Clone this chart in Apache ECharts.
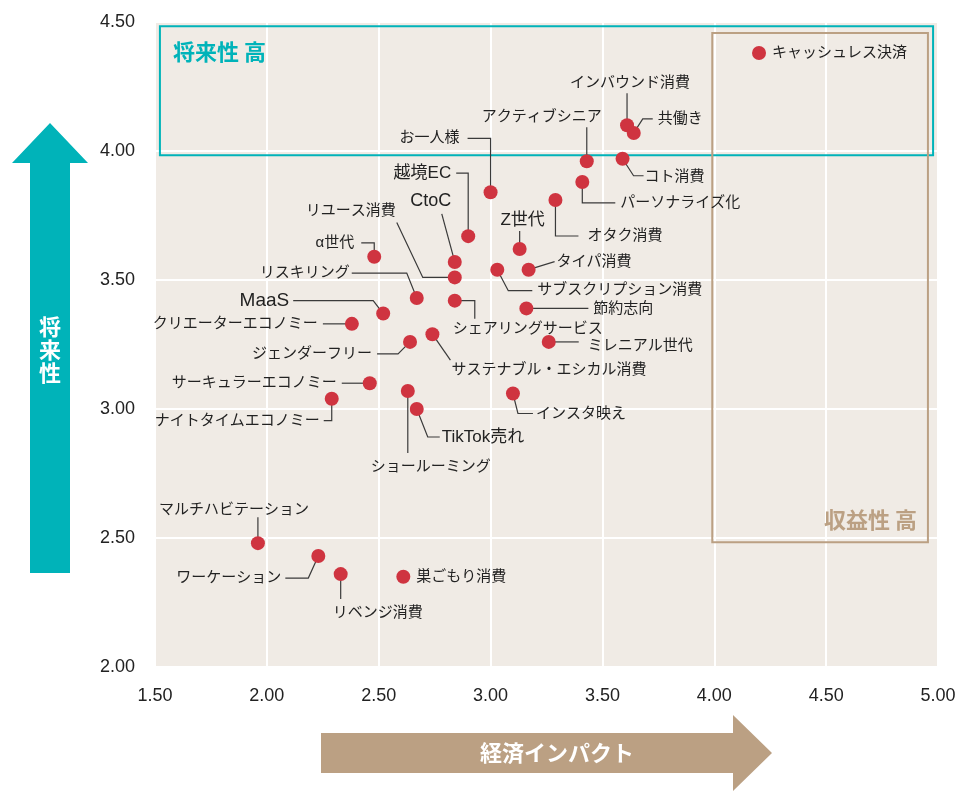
<!DOCTYPE html>
<html>
<head>
<meta charset="utf-8">
<script src="https://cdn.jsdelivr.net/npm/echarts@6/dist/echarts.min.js"></script>
<style>html,body{margin:0;padding:0;background:#fff;}#c{width:980px;height:800px;}</style>
</head>
<body>
<div id="c"></div>
<script>
// ---- data ----
const names = ['キャッシュレス決済','インバウンド消費','共働き','アクティブシニア','コト消費','お一人様','パーソナライズ化','オタク消費','越境EC','Z世代','CtoC','リユース消費','タイパ消費','サブスクリプション消費','α世代','リスキリング','シェアリングサービス','節約志向','MaaS','クリエーターエコノミー','サステナブル・エシカル消費','ジェンダーフリー','ミレニアル世代','サーキュラーエコノミー','ショールーミング','インスタ映え','ナイトタイムエコノミー','TikTok売れ','マルチハビテーション','ワーケーション','リベンジ消費','巣ごもり消費'];
const economicImpact = [4.20,3.61,3.64,3.43,3.59,3.00,3.41,3.29,2.90,3.13,2.84,2.84,3.17,3.03,2.48,2.67,2.84,3.16,2.52,2.38,2.74,2.64,3.26,2.46,2.63,3.10,2.29,2.67,1.96,2.23,2.33,2.61];
const futurePotential = [4.38,4.10,4.07,3.96,3.97,3.84,3.88,3.81,3.67,3.62,3.57,3.51,3.54,3.54,3.59,3.43,3.42,3.39,3.37,3.33,3.29,3.26,3.26,3.10,3.07,3.06,3.04,3.00,2.48,2.43,2.36,2.35];
const xTicks = [1.5,2.0,2.5,3.0,3.5,4.0,4.5,5.0];
const yTicks = [2.0,2.5,3.0,3.5,4.0,4.5];

// ---- label layout (pixel offsets relative to each point) ----
const labelLayout = {
 'キャッシュレス決済':{dx:13,dy:0,align:'left',path:[]},
 'インバウンド消費':{dx:3,dy:-42,align:'center',path:[[0,-32],[0,0]]},
 '共働き':{dx:24,dy:-14,align:'left',path:[[0,0],[9,-14],[19,-14]]},
 'アクティブシニア':{dx:15,dy:-44,align:'right',path:[[0,-34],[0,0]]},
 'コト消費':{dx:22,dy:18,align:'left',path:[[0,0],[11,17],[21,17]]},
 'お一人様':{dx:-31,dy:-54,align:'right',path:[[-23,-54],[0,-54],[0,0]]},
 'パーソナライズ化':{dx:38,dy:21,align:'left',path:[[0,0],[0,21],[33,21]]},
 'オタク消費':{dx:32,dy:36,align:'left',path:[[0,0],[0,36],[23,36]]},
 '越境EC':{dx:-17,dy:-63,align:'right',size:17,path:[[-12,-63],[0,-63],[0,0]]},
 'Z世代':{dx:3,dy:-29,align:'center',size:17,path:[[0,-18],[0,0]]},
 'CtoC':{dx:-24,dy:-61,align:'center',size:18,path:[[-13,-48],[0,0]]},
 'リユース消費':{dx:-59,dy:-67,align:'right',path:[[-58,-55],[-32,0],[0,0]]},
 'タイパ消費':{dx:28,dy:-8,align:'left',path:[[0,0],[26,-8]]},
 'サブスクリプション消費':{dx:40,dy:20,align:'left',path:[[0,0],[11,21],[35,21]]},
 'α世代':{dx:-20,dy:-14,align:'right',path:[[-13,-14],[0,-14],[0,0]]},
 'リスキリング':{dx:-67,dy:-25,align:'right',path:[[-65,-25],[-10,-25],[0,0]]},
 'シェアリングサービス':{dx:-2,dy:28,align:'left',path:[[0,0],[20,0],[20,18]]},
 '節約志向':{dx:67,dy:0,align:'left',path:[[0,0],[62,0]]},
 'MaaS':{dx:-94,dy:-13,align:'right',size:19,path:[[-90,-13],[-10,-13],[0,0]]},
 'クリエーターエコノミー':{dx:-34,dy:0,align:'right',path:[[-29,0],[0,0]]},
 'サステナブル・エシカル消費':{dx:19,dy:36,align:'left',path:[[0,0],[18,26]]},
 'ジェンダーフリー':{dx:-38,dy:12,align:'right',path:[[-33,12],[-12,12],[0,0]]},
 'ミレニアル世代':{dx:39,dy:4,align:'left',path:[[0,0],[30,0]]},
 'サーキュラーエコノミー':{dx:-33,dy:0,align:'right',path:[[-28,0],[0,0]]},
 'ショールーミング':{dx:23,dy:76,align:'center',path:[[0,0],[0,62]]},
 'インスタ映え':{dx:23,dy:20,align:'left',path:[[0,0],[5,20],[20,20]]},
 'ナイトタイムエコノミー':{dx:-12,dy:22,align:'right',path:[[-8,22],[0,22],[0,0]]},
 'TikTok売れ':{dx:25,dy:28,align:'left',size:17,path:[[0,0],[11,28],[23,28]]},
 'マルチハビテーション':{dx:-24,dy:-33,align:'center',path:[[0,-26],[0,0]]},
 'ワーケーション':{dx:-37,dy:22,align:'right',path:[[-33,22],[-10,22],[0,0]]},
 'リベンジ消費':{dx:-8,dy:39,align:'left',path:[[0,0],[0,25]]},
 '巣ごもり消費':{dx:13,dy:0,align:'left',path:[]}
};

const TEAL = '#00b3b9';
const BROWN = '#bba083';
const FONT = '"Liberation Sans", "Noto Sans CJK JP", sans-serif';

const points = names.map((n,i)=>[economicImpact[i], futurePotential[i], n]);

const chart = echarts.init(document.getElementById('c'), null, {renderer:'canvas'});

chart.setOption({
  animation:false,
  backgroundColor:'#ffffff',
  grid:{left:155,right:42,top:22,bottom:133,show:true,backgroundColor:'#f0ebe5',borderWidth:0},
  xAxis:{type:'value',min:xTicks[0],max:xTicks[xTicks.length-1],interval:0.5,
    axisLine:{show:false},axisTick:{show:false},
    splitLine:{show:true,lineStyle:{color:'#ffffff',width:2}},
    axisLabel:{margin:20,fontSize:18,fontFamily:FONT,color:'#222',formatter:v=>v.toFixed(2)}},
  yAxis:{type:'value',min:yTicks[0],max:yTicks[yTicks.length-1],interval:0.5,
    axisLine:{show:false},axisTick:{show:false},
    splitLine:{show:true,lineStyle:{color:'#ffffff',width:2}},
    axisLabel:{margin:20,fontSize:18,fontFamily:FONT,color:'#222',formatter:v=>v.toFixed(2)}},
  graphic:[
    {type:'polygon',shape:{points:[[30,573],[30,163],[12,163],[50,123],[88,163],[70,163],[70,573]]},style:{fill:TEAL},z:10},
    {type:'text',x:50,y:350,style:{text:'将\n来\n性',fill:'#fff',font:'bold 22px "Noto Sans CJK JP", sans-serif',lineHeight:23,align:'center',verticalAlign:'middle'},z:11},
    {type:'polygon',shape:{points:[[321,733],[733,733],[733,715],[772,753],[733,791],[733,773],[321,773]]},style:{fill:BROWN},z:10},
    {type:'text',x:557,y:753,style:{text:'経済インパクト',fill:'#fff',font:'bold 22px "Noto Sans CJK JP", sans-serif',align:'center',verticalAlign:'middle'},z:11}
  ],
  series:[
    {
      type:'custom',
      coordinateSystem:'cartesian2d',
      z:2,
      silent:true,
      data:points,
      renderItem:function(params,api){
        const p = api.coord([api.value(0),api.value(1)]);
        const L = labelLayout[names[params.dataIndex]];
        if(!L || L.path.length<2) return {type:'group',children:[]};
        return {type:'polyline',shape:{points:L.path.map(q=>[p[0]+q[0],p[1]+q[1]])},
          style:{stroke:'#3a3a3a',lineWidth:1.2,fill:null}};
      }
    },
    {
      type:'scatter',
      z:3,
      symbolSize:14,
      itemStyle:{color:'#cf3440',opacity:1},
      data:points,
      markArea:{
        silent:true,
        data:[
          [{coord:[1.522,4.484],itemStyle:{color:'rgba(0,0,0,0)',borderColor:TEAL,borderWidth:2},
            label:{show:true,position:[14,16],formatter:'将来性 高',color:TEAL,fontSize:22,fontWeight:'bold',fontFamily:'"Noto Sans CJK JP", sans-serif'}},
           {coord:[4.978,3.984]}],
          [{coord:[3.991,4.457],itemStyle:{color:'rgba(0,0,0,0)',borderColor:BROWN,borderWidth:2},
            label:{show:true,position:'insideBottomRight',distance:12,formatter:'収益性 高',color:BROWN,fontSize:22,fontWeight:'bold',fontFamily:'"Noto Sans CJK JP", sans-serif'}},
           {coord:[4.955,2.484]}]
        ]
      }
    },
    {
      type:'custom',
      coordinateSystem:'cartesian2d',
      z:4,
      silent:true,
      data:points,
      renderItem:function(params,api){
        const p = api.coord([api.value(0),api.value(1)]);
        const n = names[params.dataIndex];
        const L = labelLayout[n];
        return {type:'text',x:p[0]+L.dx,y:p[1]+L.dy,
          style:{text:n,fill:'#222',fontSize:L.size||15,fontFamily:FONT,align:L.align,verticalAlign:'middle'}};
      }
    }
  ]
});
</script>
</body>
</html>
